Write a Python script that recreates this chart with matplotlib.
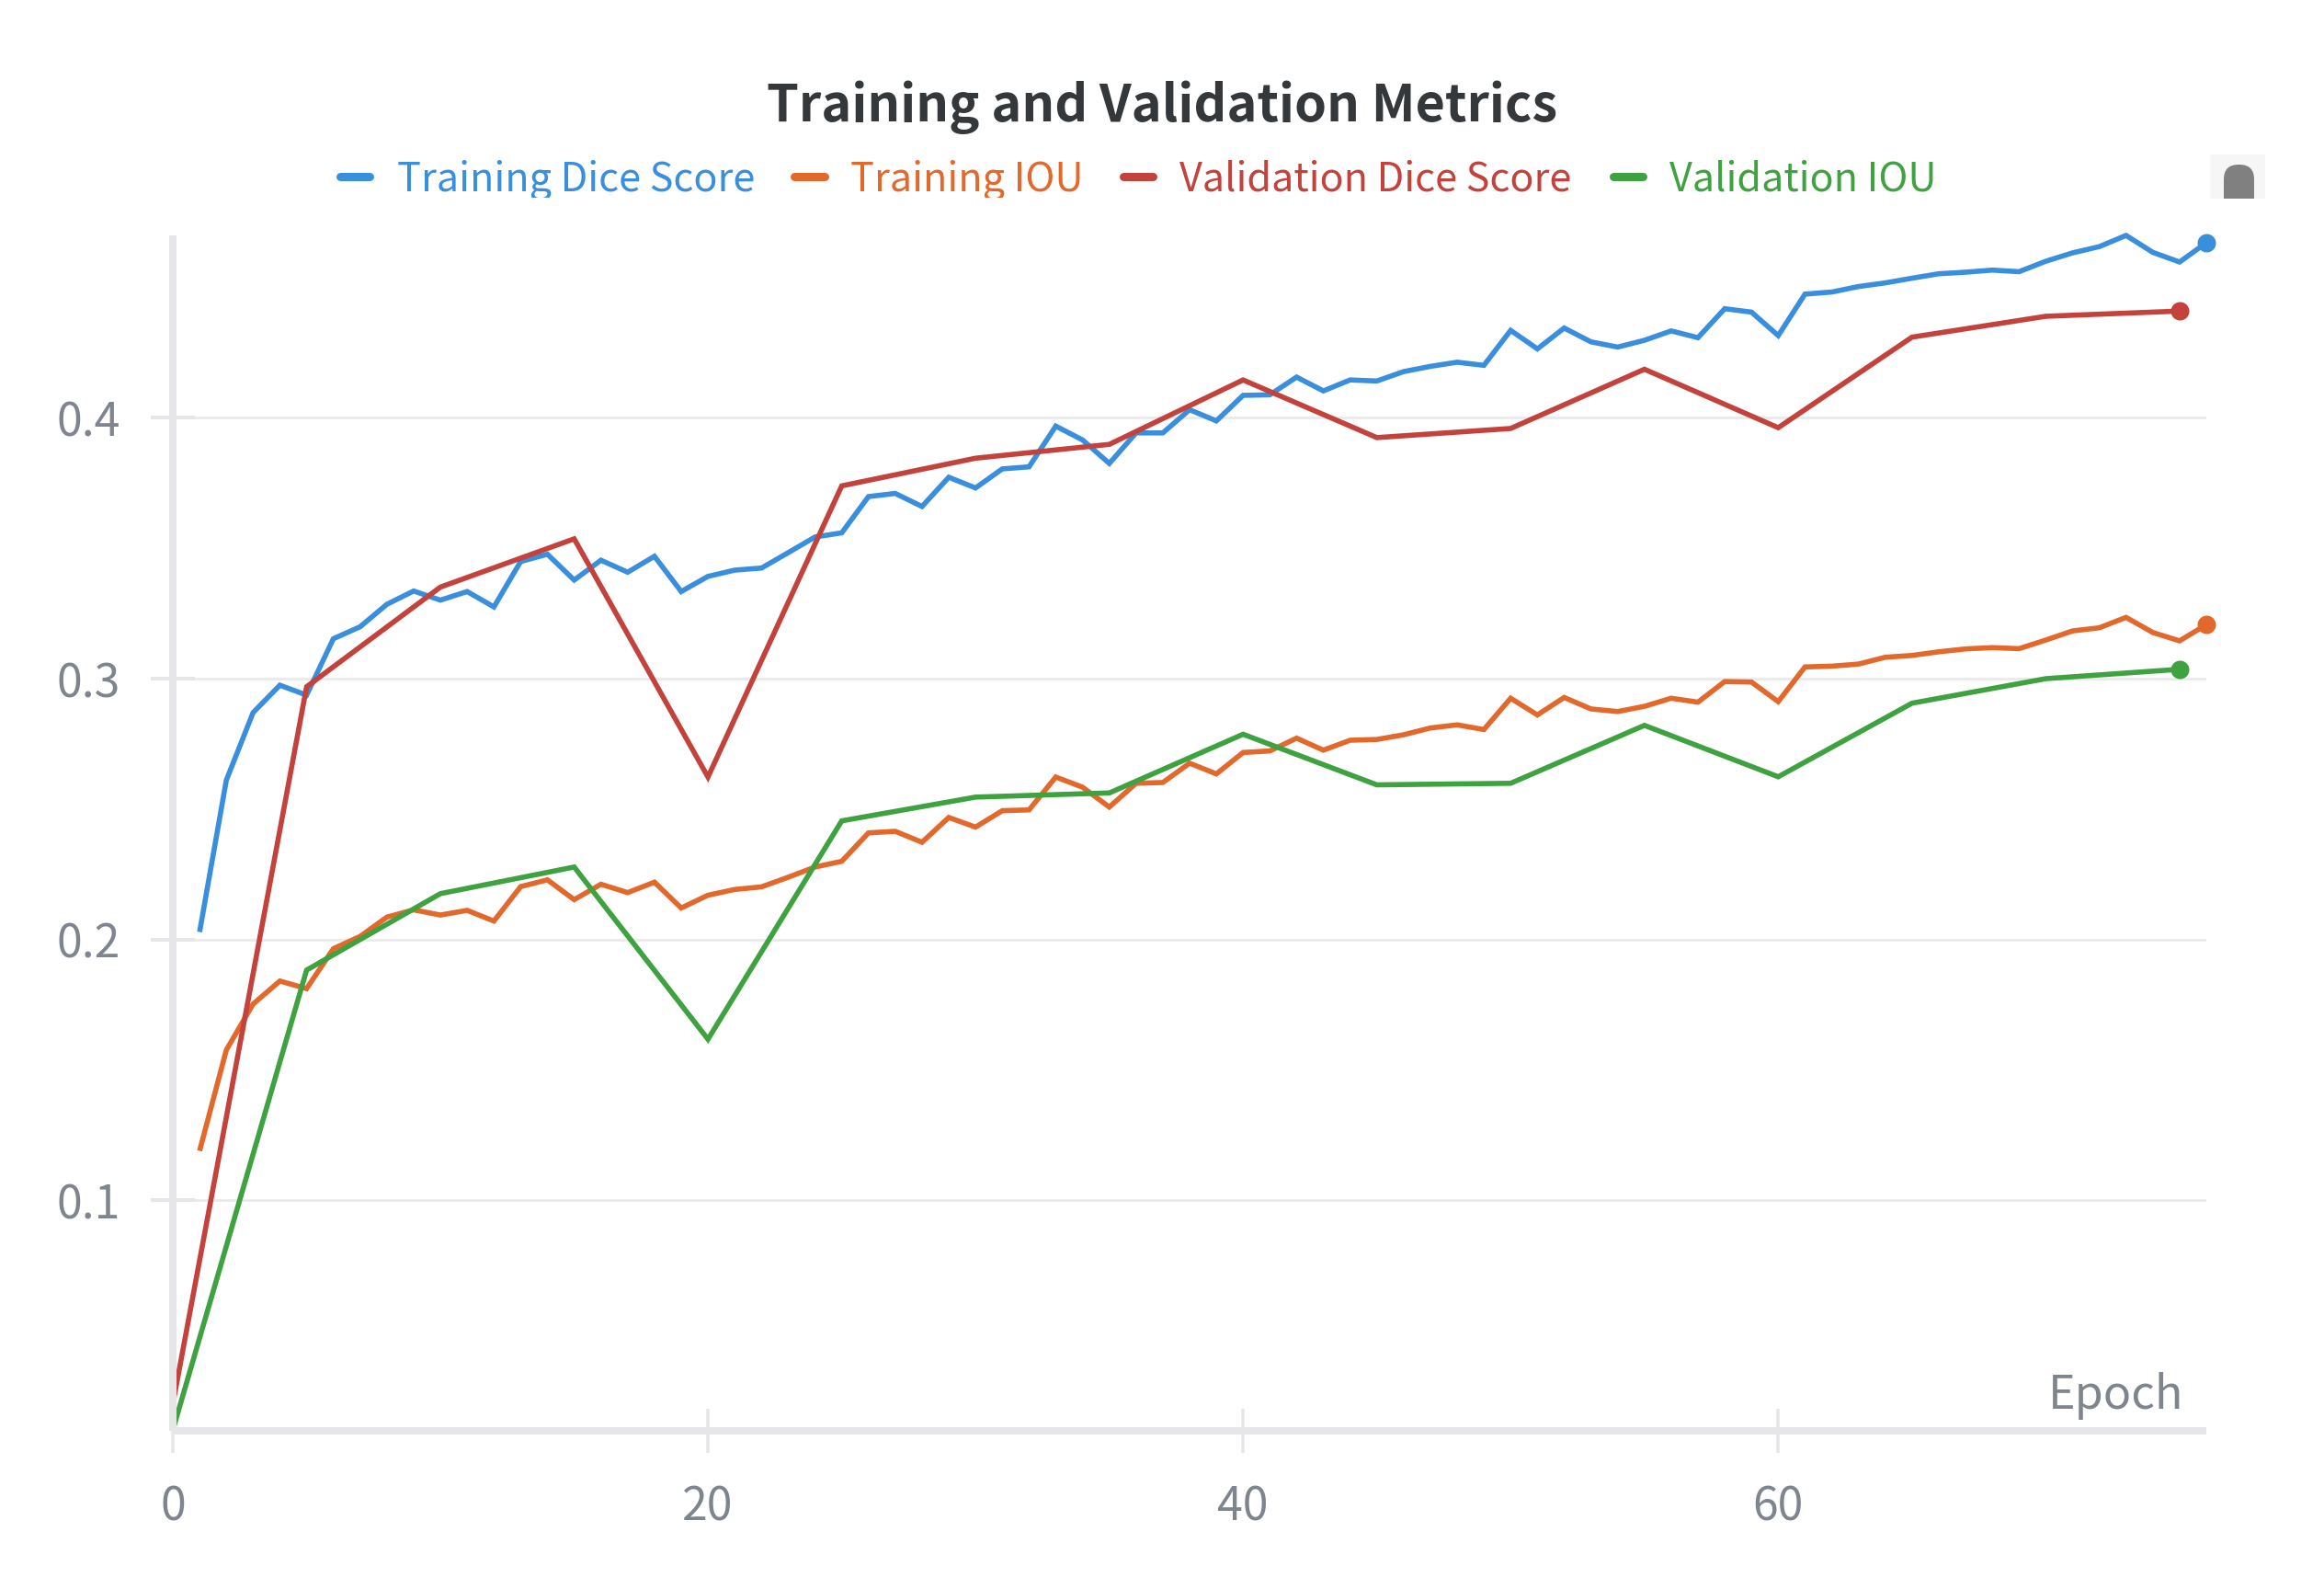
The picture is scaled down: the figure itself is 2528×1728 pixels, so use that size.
import matplotlib
matplotlib.use("Agg")
import matplotlib.pyplot as plt
from matplotlib.lines import Line2D
from matplotlib.patches import Rectangle, FancyBboxPatch
from matplotlib.transforms import Affine2D, Bbox

# ---------- data ----------
title = "Training and Validation Metrics"
x_label = "Epoch"
names = ["Training Dice Score", "Training IOU", "Validation Dice Score", "Validation IOU"]
colors = ["#398fdd", "#e2692b", "#c3423c", "#3fa240"]

train_epochs = list(range(1, 77))
train_dice = [0.2029, 0.2611, 0.2870, 0.2975, 0.2937, 0.3153, 0.3199, 0.3285, 0.3336, 0.3301,
              0.3334, 0.3275, 0.3449, 0.3477, 0.3378, 0.3454, 0.3408, 0.3469, 0.3334, 0.3392,
              0.3416, 0.3424, 0.3483, 0.3543, 0.3559, 0.3698, 0.3710, 0.3660, 0.3772, 0.3731,
              0.3804, 0.3812, 0.3968, 0.3915, 0.3825, 0.3942, 0.3942, 0.4031, 0.3988, 0.4086,
              0.4088, 0.4156, 0.4103, 0.4145, 0.4141, 0.4177, 0.4197, 0.4213, 0.4201, 0.4335,
              0.4264, 0.4344, 0.4291, 0.4271, 0.4297, 0.4333, 0.4307, 0.4418, 0.4405, 0.4315,
              0.4474, 0.4482, 0.4503, 0.4517, 0.4535, 0.4552, 0.4558, 0.4566, 0.4560, 0.4600,
              0.4632, 0.4656, 0.4699, 0.4634, 0.4597, 0.4671]
train_iou = [0.1190, 0.1577, 0.1753, 0.1841, 0.1812, 0.1965, 0.2012, 0.2086, 0.2114, 0.2094,
             0.2112, 0.2071, 0.2203, 0.2229, 0.2153, 0.2212, 0.2180, 0.2220, 0.2121, 0.2170,
             0.2192, 0.2202, 0.2239, 0.2278, 0.2300, 0.2409, 0.2415, 0.2373, 0.2468, 0.2431,
             0.2494, 0.2497, 0.2623, 0.2584, 0.2508, 0.2599, 0.2602, 0.2676, 0.2635, 0.2717,
             0.2723, 0.2772, 0.2726, 0.2764, 0.2767, 0.2785, 0.2811, 0.2823, 0.2805, 0.2925,
             0.2861, 0.2928, 0.2884, 0.2874, 0.2894, 0.2925, 0.2910, 0.2989, 0.2987, 0.2912,
             0.3045, 0.3048, 0.3056, 0.3082, 0.3089, 0.3103, 0.3114, 0.3119, 0.3115, 0.3148,
             0.3183, 0.3195, 0.3235, 0.3177, 0.3145, 0.3207]
val_epochs = [0, 5, 10, 15, 20, 25, 30, 35, 40, 45, 50, 55, 60, 65, 70, 75]
val_dice = [0.0220, 0.2969, 0.3351, 0.3536, 0.2623, 0.3739, 0.3845, 0.3898, 0.4145, 0.3924,
            0.3959, 0.4186, 0.3962, 0.4309, 0.4389, 0.4409]
val_iou = [0.0120, 0.1883, 0.2176, 0.2278, 0.1618, 0.2455, 0.2546, 0.2562, 0.2787, 0.2593,
           0.2599, 0.2821, 0.2624, 0.2906, 0.3000, 0.3036]
x_ticks = [0, 20, 40, 60]
y_ticks = [0.1, 0.2, 0.3, 0.4]
y_tick_labels = ["0.1", "0.2", "0.3", "0.4"]

# ---------- layout (pixels) ----------
W, H = 2528, 1728
PX = 72 / 100
FONT = "Noto Sans CJK SC"
AXIS = "#e6e6e8"
GRID = "#ebebec"
MUTED = "#7f858f"

plt.rcParams["font.family"] = [FONT, "DejaVu Sans"]
fig = plt.figure(figsize=(W / 100, H / 100), dpi=100, facecolor="white")
ax = fig.add_axes([188 / W, 1 - 1556 / H, (2400 - 188) / W, (1556 - 256) / H])
ax.set_xlim(0, 76)
ax.set_ylim(0.0117, 0.4699)
pix = Affine2D().scale(1 / W, -1 / H).translate(0, 1) + fig.transFigure

# ---------- marks ----------
series = [(train_epochs, train_dice), (train_epochs, train_iou),
          (val_epochs, val_dice), (val_epochs, val_iou)]
for (xs, ys), c, n in zip(series, colors, names):
    ax.plot(xs, ys, color=c, lw=5.6 * PX, solid_joinstyle="miter", solid_capstyle="butt",
            clip_on=False, zorder=3, label=n)
    ax.plot(xs[-1:], ys[-1:], "o", color=c, ms=20 * PX, mew=0, clip_on=False, zorder=4)

# ---------- axes ----------
ax.set_facecolor("none")
for s in ("top", "right"):
    ax.spines[s].set_visible(False)
for s in ("left", "bottom"):
    ax.spines[s].set_color(AXIS)
    ax.spines[s].set_linewidth(8 * PX)
    ax.spines[s].set_capstyle("butt")
    ax.spines[s].set_zorder(5)
ax.set_xticks(x_ticks)
ax.set_yticks(y_ticks, y_tick_labels)
ax.tick_params(axis="both", direction="inout", length=48 * PX, color=AXIS, labelcolor=MUTED,
               labelsize=36)
ax.tick_params(axis="x", width=3.5 * PX, pad=24)
ax.tick_params(axis="y", width=4 * PX, pad=24)
ax.set_axisbelow(True)
ax.grid(axis="y", color=GRID, lw=3 * PX)
ax.set_xlabel(x_label, color=MUTED, fontsize=36.2, ha="right", va="baseline")
ax.xaxis.set_label_coords(2375, 1532, transform=Affine2D().scale(1, -1).translate(0, H))

# ---------- title ----------
fig.suptitle(title, x=1264 / W, y=1 - 132 / H, ha="center", va="baseline",
             fontsize=40.3, fontweight="bold", color="#35383b")

# ---------- legend row, cut off below the baseline as in the reference ----------
legend_clip = Bbox([[0, H - 215], [W, H]])
swatch_x = [(370, 402), (864, 897), (1222, 1254), (1755, 1787)]
text_x = [432, 925, 1283, 1816]
for (a, b), tx, n, c in zip(swatch_x, text_x, names, colors):
    fig.add_artist(Line2D([a, b], [191.5, 191.5], transform=pix, color=c, lw=9 * PX,
                          solid_capstyle="round"))
    t = fig.text(tx, 207, n, transform=pix, color=c, fontsize=31.1, va="baseline", ha="left")
    t.set_clip_box(legend_clip)
    t.set_clip_on(True)

# ---------- small grey fragment at the top right ----------
fig.add_artist(Rectangle((2404, 168), 60, 48, transform=pix, fc="#f6f6f6", ec="none"))
pill = FancyBboxPatch((2419 + 16, 179 + 16), 1, 40, boxstyle="round,pad=16,rounding_size=16",
                      transform=pix, fc="#808080", ec="none")
fig.add_artist(pill)
pill.set_clip_box(Bbox([[2404, H - 216], [2464, H - 168]]))
pill.set_clip_on(True)

fig.savefig("out.png", dpi=100, facecolor="white")
